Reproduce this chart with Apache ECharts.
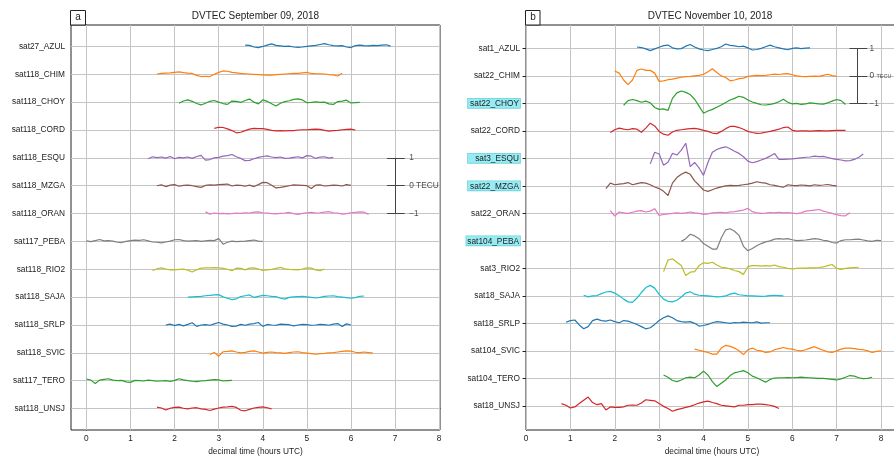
<!DOCTYPE html>
<html><head><meta charset="utf-8">
<script src="https://cdn.jsdelivr.net/npm/echarts@6/dist/echarts.min.js"></script>
<style>html,body{margin:0;padding:0;background:#fff;overflow:hidden}#c{width:894px;height:457px}</style>
</head><body><div id="c"></div>
<script>
// ---------------- DATA (values in 0.01 TECU, sampled every 0.1 h) ----------------
const stepHours = 0.1;
const xTicks = [0, 1, 2, 3, 4, 5, 6, 7, 8];
const rowValues = [0,1,2,3,4,5,6,7,8,9,10,11,12,13];
const scaleTicks = [1, 0, -1];

// Panel a: September 09, 2018
const titleA = 'DVTEC September 09, 2018';
const namesA = ['sat27_AZUL','sat118_CHIM','sat118_CHOY','sat118_CORD','sat118_ESQU','sat118_MZGA','sat118_ORAN','sat117_PEBA','sat118_RIO2','sat118_SAJA','sat118_SRLP','sat118_SVIC','sat117_TERO','sat118_UNSJ'];
const startA = [3.6, 1.6, 2.1, 2.9, 1.4, 1.6, 2.7, 0.0, 1.5, 2.3, 1.8, 2.8, 0.0, 1.6];
const a_AZUL = [5,4,-2,-4,0,5,9,4,2,0,1,-2,-3,-2,0,2,4,7,10,6,3,2,3,-2,-4,3,5,3,2,4,3,5,6,1];
const a_CHIM = [1,3,4,5,7,9,6,4,3,-4,-8,-7,-8,0,7,12,11,7,5,3,2,1,0,-1,-2,-3,-3,-1,0,1,2,3,3,5,7,3,2,2,1,-1,-2,-6,4];
const a_CHOY = [-4,4,8,3,-5,-10,-4,3,6,0,-5,-8,4,3,-1,6,11,0,-6,8,3,-6,-14,-4,2,5,10,12,8,-2,-1,1,-1,0,-6,-8,2,4,7,-3,-2,-1];
const a_CORD = [6,10,9,4,-2,-10,-8,-2,3,6,5,5,2,-1,-3,-2,-3,-2,-2,0,1,1,2,3,2,-1,-4,-2,-1,1,2,3,0];
const a_ESQU = [-3,4,1,3,-1,5,-3,2,0,3,-2,5,9,-8,-6,0,2,6,8,12,4,-2,-10,-9,-3,2,5,7,3,1,3,-2,-1,2,4,0,8,6,-2,3,4,-1,2];
const a_MZGA = [0,3,-3,2,4,-2,1,2,0,-3,-6,1,3,2,4,5,6,-1,2,1,-2,2,-3,4,12,11,2,-8,-6,-3,0,3,2,1,0,-10,2,3,-1,0,2,1,-1,4,1];
const a_ORAN = [6,-2,2,0,1,-1,0,2,1,3,2,5,6,3,2,0,-1,1,2,4,0,-3,1,3,4,2,3,5,7,3,2,-2,0,3,4,6,5,-3];
const a_PEBA = [2,-1,3,7,2,3,1,-3,-4,0,3,5,4,6,2,-2,-3,-5,-2,1,6,7,3,1,2,3,0,2,4,3,10,-10,-3,1,-1,0,1,3,5,1,0];
const a_RIO2 = [-5,2,5,1,-2,-2,0,1,-3,-10,-2,4,5,5,6,5,3,0,-5,4,3,-2,4,5,1,-4,-2,0,3,7,2,0,-1,-2,1,5,4,-2,-5,1];
const a_SAJA = [0,1,2,3,5,6,8,9,1,-4,-9,-6,2,5,8,-1,3,6,5,3,2,-4,-7,-1,1,2,3,1,-1,-3,-1,3,4,5,2,0,-2,-4,-2,3,4];
const a_SRLP = [0,3,-2,2,-3,2,8,-5,0,1,-1,4,9,3,0,-5,-4,2,-1,3,5,9,-5,2,0,-1,3,2,1,-3,0,2,1,-1,0,2,1,-1,3,5,-5,4,0];
const a_SVIC = [-6,1,-12,4,5,7,3,0,2,5,7,3,-1,2,3,1,0,-2,1,3,4,1,-1,-3,-5,-3,-2,0,1,3,5,7,6,2,1,3,1,-1];
const a_TERO = [6,2,-10,2,5,7,2,0,1,-4,-6,1,0,-1,2,0,-2,-1,0,-3,1,7,3,0,-2,-3,-1,0,2,4,3,-1,0,1];
const a_UNSJ = [5,2,-5,1,4,5,1,-1,2,3,-1,-3,-7,-2,2,5,6,8,4,-6,-8,-3,2,4,6,3,-1];
const valuesA = [a_AZUL,a_CHIM,a_CHOY,a_CORD,a_ESQU,a_MZGA,a_ORAN,a_PEBA,a_RIO2,a_SAJA,a_SRLP,a_SVIC,a_TERO,a_UNSJ];

// Panel b: November 10, 2018
const titleB = 'DVTEC November 10, 2018';
const namesB = ['sat1_AZUL','sat22_CHIM','sat22_CHOY','sat22_CORD','sat3_ESQU','sat22_MZGA','sat22_ORAN','sat104_PEBA','sat3_RIO2','sat18_SAJA','sat18_SRLP','sat104_SVIC','sat104_TERO','sat18_UNSJ'];
const highlightB = ['sat22_CHOY','sat3_ESQU','sat22_MZGA','sat104_PEBA'];
const startB = [2.5, 2.0, 2.2, 1.9, 2.8, 1.8, 1.9, 3.5, 3.1, 1.3, 0.9, 3.8, 3.1, 0.8];
const b_AZUL = [5,3,-2,-8,-2,4,10,12,2,-2,-1,8,14,5,-2,-6,-8,-4,0,6,16,11,9,6,8,2,-6,-4,0,6,12,6,2,-2,-5,0,2,-1,1,2];
const b_CHIM = [18,10,-15,-32,-15,20,25,20,20,10,-20,-18,-14,-12,-8,-5,-3,-2,0,2,6,15,26,12,0,-6,-18,-15,-10,-8,-2,0,2,1,2,4,6,5,7,8,4,0,-2,-3,-2,-1,-2,2,6,1,-2];
const b_CHOY = [-7,10,14,10,4,8,2,-15,-22,-20,-26,18,38,45,40,32,15,-10,-36,-28,-22,-14,-6,3,12,18,26,22,12,5,0,-5,-6,-4,0,6,15,4,-2,0,-4,-2,2,0,-2,-3,2,8,14,10,-4];
const b_CORD = [-6,4,10,6,4,8,6,-5,10,28,18,-2,-12,-16,-4,2,4,6,8,9,6,2,-2,-8,-10,-2,8,16,16,12,6,-2,-6,-9,-8,-5,-2,2,6,12,14,2,-1,0,0,-1,0,1,0,0,1,2,2,2];
const b_ESQU = [-20,22,16,-25,-14,18,12,30,55,-30,-15,-35,-62,-15,22,32,38,42,35,26,18,6,-10,-16,-12,-6,0,8,18,-4,-4,-3,-2,0,2,4,5,8,6,7,3,-1,-4,-6,-9,-8,-4,4,16];
const b_MZGA = [-10,10,4,6,8,12,4,8,12,10,4,-4,-10,-20,-35,10,30,42,50,42,18,2,-15,-20,-14,-8,-4,0,2,1,2,4,6,10,15,12,10,4,2,-2,-5,4,2,1,3,2,0,4,2,3,5,2,0];
const b_ORAN = [10,-10,5,2,0,4,8,10,5,8,17,-8,-4,-2,0,2,0,2,5,2,0,-4,-2,2,3,4,2,5,6,9,12,18,6,2,0,1,3,2,4,2,3,1,-1,2,8,10,12,14,8,4,0,-5,-8,-9,2];
const b_PEBA = [-2,8,24,18,8,-10,-20,-30,-30,10,40,44,35,20,-20,-36,-28,-18,-10,-4,0,6,8,6,8,4,1,2,3,5,8,6,2,0,-6,-8,1,4,4,5,6,3,0,-2,2,1];
const b_RIO2 = [-12,30,35,22,10,-26,-14,-12,10,20,18,22,12,4,2,-2,-8,-12,-22,6,10,10,8,10,8,12,6,4,0,-2,0,1,1,2,2,3,5,10,14,0,-4,0,2,3,4];
const b_SAJA = [2,-4,0,1,8,14,16,10,0,-12,-22,-24,-8,12,30,38,28,5,-12,-20,-22,-16,-4,10,15,6,2,1,0,-2,-4,-3,0,6,10,4,2,0,0,-1,-2,-1,1,2,1,0];
const b_SRLP = [4,10,12,-6,-20,-12,10,15,10,8,12,6,2,10,8,2,-4,-12,-20,-16,-4,10,20,27,20,10,6,4,6,0,-10,-8,-4,2,6,4,2,0,3,2,4,3,2,5,1,2,2];
const b_SVIC = [6,2,-2,-6,-12,-12,10,20,16,10,0,-14,4,10,2,0,-6,-4,4,8,12,8,6,2,0,4,10,15,8,2,-4,-6,0,6,10,10,8,5,4,0,-6,-2,0];
const b_TERO = [12,4,-8,-12,-6,2,4,2,12,26,12,-12,-30,-18,-6,10,20,24,28,20,8,2,-6,-14,-4,1,2,2,3,2,3,4,3,2,1,0,0,-2,-4,-6,-2,4,10,8,2,-1,0,4];
const b_UNSJ = [8,2,-8,-4,8,20,32,12,4,8,-15,-4,-6,-6,-4,2,3,2,10,22,20,18,8,-2,-10,-20,-14,-10,-6,-2,4,10,14,17,12,8,2,0,-2,-4,2,2,4,4,6,6,4,2,-2,-10];
const valuesB = [b_AZUL,b_CHIM,b_CHOY,b_CORD,b_ESQU,b_MZGA,b_ORAN,b_PEBA,b_RIO2,b_SAJA,b_SRLP,b_SVIC,b_TERO,b_UNSJ];

// ---------------- STYLE ----------------
const palette = ['#1f77b4','#ff7f0e','#2ca02c','#d62728','#9467bd','#8c564b','#e377c2','#7f7f7f','#bcbd22','#17becf','#1f77b4','#ff7f0e','#2ca02c','#d62728'];
const FONT = '"Liberation Sans", Arial, Helvetica, sans-serif';
const gridColor = '#c4c4c4';
const axisColor = '#222';
const textColor = '#222';
const FS = 8.3;

function traces(names, starts, vals, gi) {
  return names.map((n, k) => ({
    type: 'line', name: n, xAxisIndex: gi, yAxisIndex: gi, z: 3,
    showSymbol: false, symbol: 'none', silent: true, animation: false,
    lineStyle: { width: 1.2, color: palette[k] }, itemStyle: { color: palette[k] },
    data: vals[k].map((v, i) => [Math.round((starts[k] + i * stepHours) * 100) / 100, (13 - k) + v / 100])
  }));
}
function gridLines(gi) {
  return {
    type: 'line', xAxisIndex: gi, yAxisIndex: gi, data: [], silent: true, z: 1,
    markLine: {
      silent: true, animation: false, z: 1, symbol: ['none', 'none'], label: { show: false },
      emphasis: { disabled: true },
      lineStyle: { color: gridColor, width: 1, type: 'solid' },
      data: rowValues.map(v => ({ yAxis: v })).concat(xTicks.map(v => ({ xAxis: v })))
    }
  };
}
function scaleBar(gi, x0, c, labelX, labels) {
  return [{
    type: 'line', xAxisIndex: gi, yAxisIndex: gi, data: [], silent: true, z: 4,
    markLine: {
      silent: true, animation: false, z: 4, symbol: ['none', 'none'], label: { show: false },
      emphasis: { disabled: true },
      lineStyle: { color: '#444', width: 1, type: 'solid' },
      data: [[{ coord: [x0, c + 1] }, { coord: [x0, c - 1] }]].concat(
        scaleTicks.map(s => [{ coord: [x0 - 0.18, c + s] }, { coord: [x0 + 0.22, c + s] }]))
    }
  }, {
    type: 'scatter', xAxisIndex: gi, yAxisIndex: gi, silent: true, z: 4, symbolSize: 1,
    itemStyle: { color: 'rgba(0,0,0,0)' },
    data: scaleTicks.map(s => [labelX, c + s]),
    label: {
      show: true, position: 'right', distance: 0, color: textColor, fontSize: FS, fontFamily: FONT,
      formatter: p => labels[p.dataIndex],
      rich: { s: { fontSize: 5.5, color: textColor, fontFamily: FONT, padding: [2, 0, 0, 0] } }
    }
  }];
}

function xAxis(gi, min, max) {
  return {
    type: 'value', gridIndex: gi, min: min, max: max,
    name: 'decimal time (hours UTC)', nameLocation: 'middle', nameGap: 16,
    nameTextStyle: { color: textColor, fontSize: FS, fontFamily: FONT },
    axisLine: { show: true, lineStyle: { color: axisColor, width: 1 } },
    axisTick: { show: true, length: 3.5, customValues: xTicks, lineStyle: { color: axisColor } },
    axisLabel: { customValues: xTicks, margin: 5, color: textColor, fontSize: FS, fontFamily: FONT },
    splitLine: { show: false }
  };
}
function yAxis(gi, min, max, formatter, rich) {
  return {
    type: 'value', gridIndex: gi, min: min, max: max,
    axisLine: { show: true, lineStyle: { color: axisColor, width: 1 } },
    axisTick: { show: true, length: 3.5, customValues: rowValues, lineStyle: { color: axisColor } },
    axisLabel: { customValues: rowValues, margin: 6, color: textColor, fontSize: FS, fontFamily: FONT, formatter: formatter, rich: rich },
    splitLine: { show: false }
  };
}

const hlBase = { backgroundColor: '#97ebf3', borderColor: '#6fd3de', borderWidth: 0.8, padding: [1, 1, 0, 1], fontSize: FS, fontFamily: FONT, color: textColor };

const option = {
  animation: false,
  textStyle: { fontFamily: FONT },
  grid: [
    { left: 71, top: 25, width: 369, bottom: 27, show: true, borderColor: axisColor, borderWidth: 1, backgroundColor: 'transparent', containLabel: false, outerBoundsMode: 'none' },
    { left: 526, top: 25, width: 372, bottom: 27, show: true, borderColor: axisColor, borderWidth: 1, backgroundColor: 'transparent', containLabel: false, outerBoundsMode: 'none' }
  ],
  xAxis: [xAxis(0, -0.35, 8.02), xAxis(1, 0, 8.383)],
  yAxis: [
    yAxis(0, -0.77, 13.77, v => namesA[13 - Math.round(v)] || ''),
    yAxis(1, -0.88, 13.85, v => {
      const n = namesB[13 - Math.round(v)] || '';
      if (highlightB.indexOf(n) < 0) return n;
      return n.length > 10 ? '{hw|' + n + '}' : '{hl|' + n + '}';
    }, { hl: Object.assign({ width: 50, align: 'right' }, hlBase), hw: Object.assign({}, hlBase) })
  ],
  series: [].concat(
    gridLines(0), gridLines(1),
    traces(namesA, startA, valuesA, 0),
    traces(namesB, startB, valuesB, 1),
    scaleBar(0, 7.0, 8, 7.31, ['1', '0 TECU', '\u22121']),
    scaleBar(1, 7.47, 12, 7.73, ['1', '0 {s|TECU}', '\u22121'])
  ),
  graphic: [
    { type: 'text', x: 255.5, y: 16.5, z: 10, style: { text: titleA, align: 'center', verticalAlign: 'middle', font: '10px ' + FONT, fill: textColor } },
    { type: 'text', x: 710, y: 16.5, z: 10, style: { text: titleB, align: 'center', verticalAlign: 'middle', font: '10px ' + FONT, fill: textColor } },
    { type: 'rect', z: 10, shape: { x: 70.5, y: 10.5, width: 15, height: 14.5 }, style: { fill: '#fff', stroke: axisColor, lineWidth: 1 } },
    { type: 'text', z: 11, x: 78, y: 17.5, style: { text: 'a', align: 'center', verticalAlign: 'middle', font: '10px ' + FONT, fill: textColor } },
    { type: 'rect', z: 10, shape: { x: 525.5, y: 10.5, width: 14.5, height: 14.5 }, style: { fill: '#fff', stroke: axisColor, lineWidth: 1 } },
    { type: 'text', z: 11, x: 533, y: 17.5, style: { text: 'b', align: 'center', verticalAlign: 'middle', font: '10px ' + FONT, fill: textColor } }
  ]
};
const chart = echarts.init(document.getElementById('c'), null, { renderer: 'canvas' });
chart.setOption(option);
</script>
</body></html>
